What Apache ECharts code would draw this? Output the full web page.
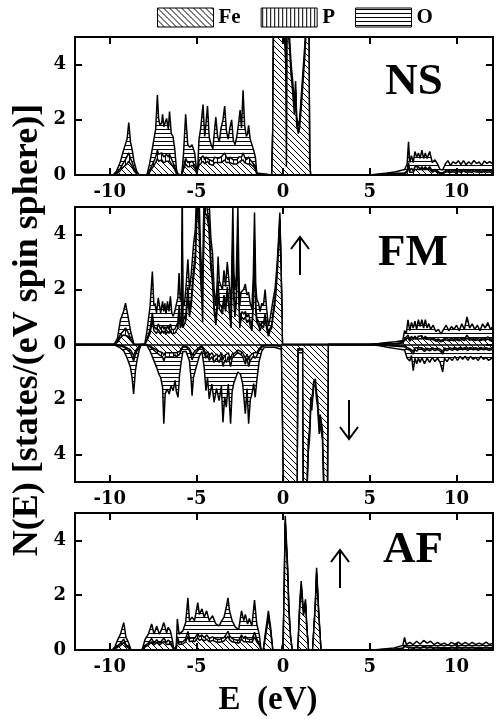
<!DOCTYPE html>
<html>
<head>
<meta charset="utf-8">
<script src="https://cdn.jsdelivr.net/npm/echarts@6/dist/echarts.min.js"></script>
<style>
html,body{margin:0;padding:0;background:#fff;}
#chart{width:496px;height:719px;}
</style>
</head>
<body>
<div id="chart"></div>
<script>
// ---------------- DATA ----------------
const PANELS = ['NS', 'FM', 'AF'];
const ELEMENTS = ['Fe', 'P', 'O'];

// NS panel
const NS_E = [
-12, -9.8, -9.6, -9.4, -9.2, -9.1, -9.0, -8.9, -8.8, -8.7, -8.6, -8.45, -8.3,
-7.85, -7.7, -7.55, -7.45, -7.35, -7.25, -7.18, -7.1, -7.0, -6.95, -6.88, -6.8, -6.72, -6.62, -6.55, -6.45, -6.35, -6.25, -6.15, -6.05,
-5.85, -5.75, -5.62, -5.5, -5.38, -5.25, -5.1, -4.98,
-4.92, -4.85, -4.75, -4.62, -4.52, -4.45, -4.36, -4.26, -4.15, -4.05,
-3.95, -3.88, -3.78, -3.68, -3.58, -3.47, -3.37, -3.27, -3.17, -3.07,
-2.97, -2.87, -2.77, -2.67, -2.57, -2.48, -2.4, -2.31, -2.22, -2.12,
-2.05, -1.99, -1.9, -1.8, -1.7, -1.6, -1.53, -1.48,
-0.65, -0.6, -0.55, -0.4, -0.25, -0.15, -0.05, 0.05, 0.15, 0.19, 0.23, 0.35, 0.45, 0.55, 0.65, 0.72, 0.78, 0.88, 0.95, 1.05, 1.15, 1.25, 1.35, 1.48, 1.53, 1.58,
5.0, 5.5, 6.0, 6.5, 7.0, 7.15, 7.23, 7.3, 7.4, 7.5, 7.6, 7.7, 7.8, 7.9, 8.0, 8.1, 8.2, 8.3, 8.45, 8.6, 8.75, 8.9, 9.05, 9.2,
9.35, 9.5, 9.65, 9.8, 9.95, 10.1, 10.25, 10.4, 10.55, 10.7, 10.85, 11.0, 11.15, 11.3, 11.45, 11.6, 11.75, 11.9, 12.1
];
const NS_FE = [
0, 0, .05, .15, .3, .35, .4, .5, .4, .3, .15, .05, 0,
0, .1, .25, .35, .45, .6, .5, .5, .55, .5, .45, .45, .5, .45, .5, .4, .3, .2, .05, 0,
0, .2, .4, .3, .3, .35, .25, .05,
.1, .35, .4, .5, .4, .45, .5, .4, .35, .35,
.45, .5, .45, .4, .45, .5, .55, .45, .4, .45,
.5, .4, .35, .4, .45, .5, .45, .55, .45, .4,
.4, .45, .4, .35, .3, .2, .05, 0,
0, 1.5, 5.6, 5.5, 5.4, 5.3, 5.4, 5.5, 4.0, .3, 5.5, 4.8, 3.7, 3.0, 2.2, 3.0, 1.8, 1.5, 1.7, 2.5, 3.4, 4.3, 5.5, 5.6, .5, 0,
0, .01, .02, .04, .05, .1, .3, .1, .15, .1, .2, .15, .2, .15, .2, .15, .2, .15, .2, .1, .15, .1, .05, .05,
.1, .13, .09, .12, .1, .13, .09, .14, .1, .12, .09, .13, .11, .12, .09, .13, .1, .12, .1
];
const NS_P = [
0, 0, .03, .08, .15, .2, .2, .3, .2, .15, .1, .03, 0,
0, .05, .12, .15, .2, .3, .25, .2, .25, .25, .2, .2, .25, .2, .25, .2, .15, .1, .03, 0,
0, .1, .2, .15, .15, .15, .1, .02,
.05, .15, .2, .2, .15, .2, .2, .15, .15, .15,
.2, .2, .15, .15, .2, .2, .25, .2, .15, .2,
.2, .15, .15, .15, .2, .2, .2, .25, .2, .15,
.15, .2, .15, .15, .1, .1, .02, 0,
0, .05, .1, .2, .2, .2, .15, .1, .15, .1, .1, .1, .1, .1, .1, .1, .1, .1, .1, .1, .1, .1, .1, .1, .05, 0,
0, .01, .01, .02, .02, .05, .15, .05, .1, .05, .1, .1, .1, .05, .1, .05, .1, .05, .1, .05, .05, .05, .03, .03,
.05, .06, .04, .06, .05, .06, .05, .06, .04, .06, .05, .06, .05, .05, .04, .06, .05, .06, .05
];
const NS_O = [
0, 0, .07, .22, .45, .55, .7, 1.1, .6, .45, .25, .07, 0,
0, .25, .55, .8, 1.0, 2.0, 1.3, 1.1, 1.1, 1.45, 1.1, 1.15, 1.3, 1.0, 1.55, .9, .95, .65, .12, 0,
0, .4, 1.6, .65, .55, .6, .45, .05,
.15, .8, 1.1, 1.85, .85, 1.2, 1.8, .8, .6, .45,
1.0, 1.4, .8, .65, 1.05, 1.3, 1.7, .95, .75, 1.05,
1.3, .7, .6, .85, 1.2, 1.65, 1.05, 2.27, 1.15, .85,
.95, 1.15, .75, .6, .5, .35, .08, 0,
0, .1, .3, .6, .7, .6, .4, .35, .5, .3, .3, .3, .3, .3, .3, .3, .2, .2, .2, .3, .3, .3, .3, .3, .1, 0,
0, .02, .04, .06, .13, .25, .75, .3, .45, .3, .55, .4, .5, .4, .6, .4, .5, .4, .55, .3, .35, .25, .12, .1,
.25, .33, .22, .3, .26, .33, .24, .32, .23, .3, .25, .34, .26, .3, .22, .32, .27, .3, .25
];

// FM panel, spin up
const FMU_E = [
-12, -9.75, -9.55, -9.38, -9.2, -9.09, -8.95, -8.8, -8.6,
-7.98, -7.85, -7.67, -7.54, -7.45, -7.39, -7.3, -7.2, -7.06, -6.95, -6.88, -6.82, -6.75, -6.67, -6.58, -6.5, -6.42, -6.34, -6.25, -6.15,
-6.07, -6.0, -5.93, -5.86, -5.82, -5.78, -5.7, -5.6, -5.49, -5.4, -5.3, -5.17, -5.06,
-4.98, -4.87, -4.77, -4.68, -4.64, -4.6, -4.52, -4.4, -4.28, -4.17, -4.07, -3.98, -3.88,
-3.8, -3.75, -3.68, -3.6, -3.5, -3.41, -3.32, -3.22, -3.15, -3.09, -3.0, -2.95, -2.9,
-2.84, -2.78, -2.7, -2.61, -2.55, -2.5, -2.43, -2.37, -2.28, -2.18, -2.09, -1.99, -1.9, -1.8,
-1.72, -1.65, -1.58, -1.52, -1.42, -1.33, -1.23, -1.14, -1.04, -0.95, -0.85, -0.75, -0.66,
-0.56, -0.47, -0.4, -0.32, -0.25, -0.19, -0.14, -0.09, -0.04,
4.8, 5.5, 6.0, 6.5, 6.9, 7.0, 7.1, 7.2, 7.3, 7.4, 7.5, 7.6, 7.7, 7.8, 7.9, 8.0, 8.1, 8.2, 8.3, 8.4, 8.5,
8.65, 8.8, 8.95, 9.1, 9.25, 9.4, 9.55, 9.7, 9.85, 10.0, 10.15, 10.3, 10.45, 10.6, 10.75, 10.9, 11.05, 11.2, 11.35, 11.5, 11.65, 11.8, 11.95, 12.1
];
const FMU_FE = [
0, 0, .08, .25, .35, .4, .3, .15, 0,
0, .15, .4, .9, .5, .5, .4, .55, .4, .5, .4, .5, .35, .5, .4, .55, .4, .35, .4, .45,
.6, 1.1, .6, .7, 3.5, .6, .6, .9, 1.8, 1.0, 1.4, 2.4, 3.0,
4.5, 4.7, 2.5, 1.5, .8, 3.0, 4.8, 4.7, 4.2, 2.8, 2.2, 1.2, .7,
1.3, 2.0, 1.3, 1.3, 1.1, 1.6, 1.2, 1.8, 1.5, 1.1, .6, 2.0, 3.6,
1.6, 1.0, 1.5, 3.6, 1.5, .6, .9, 1.0, .9, 1.0, .8, .9, .7, .5,
1.4, 3.5, 1.2, .8, .7, .5, .7, .6, .9, .6, .3, .5, .6,
1.1, 1.5, 2.0, 2.8, 3.6, 4.5, 3.2, 1.8, 0,
0, .01, .02, .03, .05, .15, .1, .25, .12, .2, .15, .2, .15, .2, .17, .22, .15, .2, .15, .18, .15,
.18, .12, .15, .1, .14, .17, .13, .16, .14, .17, .13, .18, .14, .24, .15, .18, .14, .17, .13, .18, .15, .2, .14, .16
];
const FMU_P = [
0, 0, .04, .12, .15, .2, .15, .08, 0,
0, .05, .15, .25, .15, .15, .15, .2, .15, .2, .15, .15, .15, .2, .15, .2, .15, .15, .15, .15,
.2, .3, .2, .2, .5, .2, .2, .25, .3, .2, .25, .3, .3,
.3, .3, .3, .2, .2, .3, .3, .3, .3, .3, .3, .2, .15,
.2, .3, .2, .2, .2, .2, .2, .3, .2, .2, .15, .3, .3,
.2, .2, .2, .3, .2, .15, .2, .2, .2, .2, .2, .2, .15, .15,
.2, .3, .2, .15, .15, .15, .15, .15, .2, .15, .1, .1, .1,
.15, .15, .15, .15, .15, .1, .1, .05, 0,
0, .01, .01, .01, .02, .05, .05, .1, .05, .1, .05, .1, .05, .1, .06, .1, .05, .1, .05, .08, .05,
.07, .05, .05, .04, .05, .07, .05, .06, .05, .07, .05, .07, .05, .1, .05, .07, .05, .07, .05, .07, .05, .08, .05, .06
];
const FMU_O = [
0, 0, .1, .53, .7, .9, .6, .27, 0,
0, .3, .85, 1.5, .75, .85, .6, .95, .6, .87, .65, .85, .6, .87, .65, 1.0, .6, .53, .65, .67,
.9, 1.2, .8, .9, 2.0, .7, .6, .95, 1.0, .8, .9, .9, .9,
1.0, 1.0, .8, .7, .5, .9, .9, 1.0, .9, .8, .8, .6, .55,
.8, .9, .8, .85, .7, .9, .7, .9, .8, .8, .55, .9, 1.1,
.8, .8, .8, 1.1, .8, .65, .8, .7, .9, 1.0, .8, .8, .65, .65,
.9, 1.0, .8, .7, .65, .55, .65, .65, .9, .55, .27, .35, .3,
.45, .35, .35, .25, .25, .2, .2, .15, 0,
0, .02, .04, .06, .08, .3, .25, .55, .33, .5, .4, .55, .35, .6, .42, .58, .4, .6, .4, .5, .35,
.45, .3, .35, .25, .36, .46, .32, .43, .36, .46, .32, .5, .36, .66, .4, .5, .36, .46, .32, .5, .4, .52, .36, .43
];

// FM panel, spin down (negative)
const FMD_E = [
-12, -9.75, -9.45, -9.19, -9.0, -8.8, -8.71, -8.62, -8.52, -8.43, -8.3, -8.18,
-7.88, -7.67, -7.48, -7.29, -7.15, -7.06, -6.95, -6.88, -6.8, -6.69, -6.57, -6.46, -6.34, -6.23, -6.16, -6.06, -5.97, -5.87, -5.78,
-5.6, -5.49, -5.4, -5.3, -5.25, -5.17, -5.02, -4.83, -4.68,
-4.55, -4.45, -4.36, -4.26, -4.11, -3.98, -3.84, -3.69, -3.56, -3.47, -3.37, -3.28, -3.16, -3.03,
-2.94, -2.84, -2.75, -2.61, -2.46, -2.33, -2.18, -2.08, -1.99, -1.89, -1.8, -1.7, -1.61, -1.52, -1.38, -1.23, -1.08,
-0.5, -0.1, 0.0, 0.03, 0.4, 0.8, 0.85, 1.0, 1.13, 1.17, 1.35,
1.45, 1.52, 1.6, 1.65, 1.7, 1.76, 1.86, 1.92, 1.99, 2.08, 2.14, 2.27, 2.37, 2.55, 2.6,
4.8, 5.5, 6.0, 6.5, 7.0, 7.15, 7.3, 7.4, 7.5, 7.6, 7.7, 7.8, 7.9, 8.0, 8.15, 8.3, 8.45, 8.6, 8.75, 8.9,
9.05, 9.2, 9.3, 9.45, 9.6, 9.75, 9.9, 10.05, 10.2, 10.35, 10.5, 10.65, 10.8, 10.95, 11.1, 11.25, 11.4, 11.55, 11.7, 11.85, 12.1
];
const FMD_FE = [
0, 0, -.03, -.06, -.12, -.2, -.3, -.4, -.25, -.15, -.05, 0,
0, -.06, -.13, -.2, -.25, -.28, -.3, -.4, -.3, -.3, -.3, -.3, -.3, -.25, -.3, -.35, -.25, -.15, -.06,
-.06, -.08, -.15, -.3, -.4, -.3, -.2, -.1, -.06,
-.2, -.35, -.25, -.4, -.3, -.45, -.35, -.45, -.3, -.55, -.4, -.45, -.3, -.55,
-.35, -.3, -.3, -.2, -.25, -.3, -.5, -.35, -.55, -.4, -.35, -.3, -.35, -.3, -.15, -.06, -.03,
-.03, -.05, -.1, -5.5, -5.5, -5.5, -.15, -.15, -.15, -5.5, -5.5,
-3.5, -3.1, -1.9, -2.1, -1.75, -1.35, -1.25, -1.7, -2.0, -2.9, -2.55, -3.1, -5.5, -5.5, 0,
0, -.01, -.03, -.04, -.06, -.12, -.15, -.1, -.25, -.12, -.18, -.12, -.17, -.12, -.18, -.13, -.17, -.12, -.16, -.13,
-.17, -.25, -.13, -.16, -.12, -.15, -.11, -.15, -.11, -.14, -.11, -.15, -.11, -.14, -.12, -.15, -.11, -.14, -.12, -.15, -.12
];
const FMD_P = [
0, 0, -.02, -.03, -.06, -.1, -.15, -.2, -.12, -.08, -.03, 0,
0, -.03, -.06, -.1, -.12, -.12, -.15, -.2, -.15, -.15, -.15, -.12, -.15, -.12, -.15, -.15, -.1, -.05, -.03,
-.03, -.04, -.07, -.12, -.16, -.12, -.1, -.05, -.03,
-.1, -.15, -.12, -.18, -.14, -.2, -.15, -.2, -.14, -.25, -.17, -.2, -.14, -.25,
-.15, -.12, -.14, -.1, -.1, -.14, -.22, -.15, -.25, -.17, -.15, -.12, -.15, -.12, -.07, -.03, -.01,
-.01, -.02, -.03, -.15, -.15, -.15, -.05, -.05, -.05, -.15, -.15,
-.1, -.1, -.08, -.08, -.06, -.05, -.05, -.06, -.07, -.1, -.08, -.1, -.15, -.15, 0,
0, -.01, -.01, -.02, -.02, -.05, -.05, -.04, -.1, -.05, -.07, -.05, -.06, -.05, -.07, -.05, -.06, -.05, -.06, -.05,
-.06, -.1, -.05, -.06, -.05, -.06, -.04, -.06, -.04, -.05, -.04, -.06, -.04, -.05, -.05, -.06, -.04, -.05, -.05, -.06, -.05
];
const FMD_O = [
0, 0, -.05, -.14, -.3, -.54, -.75, -1.2, -.59, -.37, -.12, 0,
0, -.15, -.35, -.54, -.73, -.8, -1.11, -2.28, -1.35, -1.17, -1.35, -1.08, -1.23, -.93, -1.25, -1.42, -.75, -.4, -.16,
-.16, -.18, -.38, -.9, -1.3, -.78, -.54, -.27, -.16,
-.54, -1.18, -.83, -1.4, -1.0, -1.45, -1.1, -1.39, -1.06, -2.03, -1.33, -1.63, -1.0, -2.08,
-1.2, -.98, -1.0, -.7, -.73, -1.0, -1.8, -1.1, -2.08, -1.43, -1.3, -1.0, -1.42, -.9, -.38, -.15, -.06,
-.06, -.1, -.17, -.35, -.35, -.35, -.1, -.1, -.1, -.35, -.35,
-.3, -.28, -.22, -.22, -.19, -.16, -.14, -.19, -.21, -.25, -.25, -.28, -.35, -.35, 0,
0, -.02, -.06, -.09, -.12, -.33, -.4, -.26, -.6, -.33, -.45, -.33, -.42, -.3, -.45, -.32, -.42, -.3, -.4, -.32,
-.42, -.65, -.32, -.4, -.3, -.37, -.28, -.37, -.28, -.35, -.28, -.37, -.28, -.35, -.3, -.37, -.28, -.35, -.3, -.37, -.3
];

// AF panel
const AF_E = [
-12, -9.85, -9.7, -9.56, -9.38, -9.19, -9.06, -8.9, -8.77,
-8.14, -7.95, -7.77, -7.58, -7.44, -7.29, -7.14, -7.0, -6.88, -6.72, -6.63, -6.5, -6.38, -6.3,
-6.16, -6.1, -6.0, -5.78, -5.62, -5.49, -5.4, -5.25, -5.11, -4.92, -4.83, -4.68, -4.55, -4.41, -4.26, -4.07,
-3.88, -3.69, -3.54, -3.41, -3.28, -3.18, -3.09, -2.94, -2.75, -2.56, -2.4, -2.27, -2.18, -2.05, -1.95, -1.8, -1.65, -1.52, -1.38, -1.27,
-1.14, -1.05, -0.95, -0.85, -0.72, -0.6, -0.09, 0.0, 0.06, 0.12, 0.18, 0.25, 0.33, 0.42, 0.52,
0.85, 0.95, 1.04, 1.17, 1.29, 1.36, 1.46, 1.7, 1.86, 1.93, 2.05, 2.18,
5.2, 5.8, 6.4, 6.9, 7.0, 7.1, 7.3, 7.5, 7.7, 7.9, 8.1, 8.3, 8.5, 8.7, 8.9, 9.1, 9.3, 9.5, 9.7, 9.9,
10.1, 10.3, 10.5, 10.7, 10.9, 11.1, 11.3, 11.5, 11.7, 11.9, 12.1
];
const AF_FE = [
0, 0, .04, .1, .16, .28, .13, .07, 0,
0, .12, .18, .3, .18, .28, .18, .25, .32, .2, .26, .22, .1, 0,
.05, .35, .2, .22, .3, .5, .3, .33, .3, .45, .35, .4, .33, .4, .3, .35,
.3, .28, .3, .33, .42, .5, .38, .3, .27, .25, .4, .3, .36, .3, .33, .28, .48, .3, .18, 0,
0, .35, .75, 1.2, .65, 0, 0, .22, 1.95, 4.6, 4.6, 2.9, 1.35, .45, 0,
0, 1.4, 2.3, 1.25, 1.65, .8, 0, 0, 1.6, 2.75, 1.25, 0,
0, .01, .02, .05, .13, .06, .08, .06, .09, .06, .1, .07, .09, .06, .08, .06, .07, .05, .08, .06,
.08, .06, .08, .06, .08, .06, .07, .06, .08, .06, .07
];
const AF_P = [
0, 0, .02, .05, .08, .12, .06, .03, 0,
0, .05, .07, .12, .07, .1, .07, .09, .12, .08, .1, .08, .04, 0,
.02, .13, .08, .08, .1, .18, .12, .12, .12, .15, .13, .15, .12, .15, .12, .13,
.1, .1, .12, .12, .15, .18, .14, .12, .1, .1, .15, .12, .14, .1, .12, .1, .17, .1, .07, 0,
0, .03, .05, .05, .04, 0, 0, .03, .1, .1, .1, .1, .1, .05, 0,
0, .05, .07, .05, .06, .04, 0, 0, .06, .08, .05, 0,
0, .01, .01, .02, .05, .02, .03, .02, .03, .02, .04, .03, .03, .02, .03, .02, .03, .02, .03, .02,
.03, .02, .03, .02, .03, .02, .03, .02, .03, .02, .03
];
const AF_O = [
0, 0, .06, .19, .34, .6, .27, .15, 0,
0, .23, .33, .53, .33, .5, .33, .42, .56, .35, .46, .4, .2, 0,
.08, .65, .3, .4, .6, 1.22, .65, .75, .65, 1.13, .82, .95, .75, .88, .65, .77,
.55, .5, .65, .74, .98, 1.22, .91, .65, .46, .4, .88, .65, .8, .55, .7, .5, 1.17, .55, .33, 0,
0, .12, .15, .18, .13, 0, 0, .05, .15, .2, .2, .2, .15, .1, 0,
0, .15, .15, .13, .14, .1, 0, 0, .14, .17, .13, 0,
0, .02, .04, .1, .28, .12, .17, .12, .2, .13, .21, .15, .2, .12, .17, .12, .15, .1, .17, .13,
.18, .12, .17, .12, .17, .12, .15, .12, .18, .12, .15
];

// ---------------- PATTERNS ----------------
function makePattern(kind) {
  const c = document.createElement('canvas');
  const s = kind === 'Fe' ? 6 : 4;
  c.width = s; c.height = s;
  const g = c.getContext('2d');
  g.fillStyle = '#fff'; g.fillRect(0, 0, s, s);
  g.fillStyle = '#000'; g.strokeStyle = '#000'; g.lineWidth = 1;
  if (kind === 'Fe') {
    g.beginPath();
    g.moveTo(-1, -1); g.lineTo(s + 1, s + 1);
    g.moveTo(-1, s - 1); g.lineTo(1, s + 1);
    g.moveTo(s - 1, -1); g.lineTo(s + 1, 1);
    g.stroke();
  } else if (kind === 'P') {
    g.fillRect(1, 0, 1, s);
  } else {
    g.fillRect(0, 1, s, 1);
  }
  return { image: c, repeat: 'repeat' };
}
const PAT = { Fe: makePattern('Fe'), P: makePattern('P'), O: makePattern('O') };

// ---------------- LAYOUT ----------------
const GRIDS = [
  { left: 75, top: 37, width: 424, height: 138 },
  { left: 75, top: 207, width: 424, height: 275 },
  { left: 75, top: 513, width: 424, height: 137 }
];
const YR = [[0, 5], [-5, 5], [0, 5]];
const LABEL_FONT = 'DejaVu Serif';

const xAxes = [], yAxes = [];
GRIDS.forEach((g, i) => {
  const common = {
    type: 'value', gridIndex: i, min: -12, max: 12.1, splitNumber: 5, z: 10,
    axisLine: { show: true, onZero: false, lineStyle: { color: '#000', width: 2 } },
    axisTick: { show: true, inside: true, length: 7, lineStyle: { color: '#000', width: 2 } },
    splitLine: { show: false }
  };
  xAxes.push(Object.assign({}, common, {
    position: 'bottom',
    axisLabel: {
      show: true, margin: 8, color: '#000', fontFamily: LABEL_FONT, fontWeight: 'bold', fontSize: 18,
      formatter: v => (Math.abs(v % 5) < 1e-6 ? String(Math.round(v)) : '')
    }
  }));
  xAxes.push(Object.assign({}, common, { position: 'top', axisLabel: { show: false } }));
  const yc = {
    type: 'value', gridIndex: i, min: YR[i][0], max: YR[i][1], splitNumber: i === 1 ? 5 : 3, z: 10,
    axisLine: { show: true, onZero: false, lineStyle: { color: '#000', width: 2 } },
    axisTick: { show: true, inside: true, length: 7, lineStyle: { color: '#000', width: 2 } },
    splitLine: { show: false }
  };
  yAxes.push(Object.assign({}, yc, {
    position: 'left',
    axisLabel: {
      show: true, margin: 9, color: '#000', fontFamily: LABEL_FONT, fontWeight: 'bold', fontSize: 18,
      formatter: v => (Math.abs(v) <= 4 && Math.abs(v % 2) < 1e-6 ? String(Math.abs(Math.round(v))) : '')
    }
  }));
  yAxes.push(Object.assign({}, yc, { position: 'right', axisLabel: { show: false } }));
});

// ---------------- SERIES ----------------
// Partial densities are piled up (Fe at the bottom, then P, then O on top):
// each area is filled from zero with an opaque hatch, drawn top layer first.
const series = [];
function addPanel(gi, E, fe, p, o, extra) {
  const n = Math.min(E.length, fe.length, p.length, o.length);
  const cum = {
    O: E.slice(0, n).map((e, j) => [e, +(fe[j] + p[j] + o[j]).toFixed(4)]),
    P: E.slice(0, n).map((e, j) => [e, +(fe[j] + p[j]).toFixed(4)]),
    Fe: E.slice(0, n).map((e, j) => [e, fe[j]])
  };
  ['O', 'P', 'Fe'].forEach((el, k) => {
    const s = {
      type: 'line', name: el,
      xAxisIndex: gi * 2, yAxisIndex: gi * 2,
      data: cum[el],
      showSymbol: false, symbol: 'none', smooth: false, animation: false, silent: true,
      clip: true,
      lineStyle: { color: '#000', width: 1.5 },
      itemStyle: { color: PAT[el] },
      areaStyle: { color: PAT[el], opacity: 1, origin: 0 },
      z: 2 + k
    };
    if (k === 0 && extra) Object.assign(s, extra);
    series.push(s);
  });
}
addPanel(0, NS_E, NS_FE, NS_P, NS_O);
addPanel(1, FMU_E, FMU_FE, FMU_P, FMU_O);
addPanel(1, FMD_E, FMD_FE, FMD_P, FMD_O, {
  markLine: {
    silent: true, symbol: ['none', 'none'], label: { show: false }, animation: false, z: 9,
    lineStyle: { color: '#000', width: 1.5, type: 'solid' }, data: [{ yAxis: 0 }]
  }
});
addPanel(2, AF_E, AF_FE, AF_P, AF_O);

// ---------------- ANNOTATIONS ----------------
const SERIF = '"Liberation Serif", "Times New Roman", serif';
function arrow(x, yTip, yEnd) {
  const d = yEnd > yTip ? 1 : -1;
  return {
    type: 'group', silent: true, z: 20,
    children: [
      { type: 'line', shape: { x1: x, y1: yTip, x2: x, y2: yEnd }, style: { stroke: '#000', lineWidth: 2 } },
      { type: 'polyline', shape: { points: [[x - 9, yTip + d * 12], [x, yTip], [x + 9, yTip + d * 12]] },
        style: { stroke: '#000', lineWidth: 2, fill: null } }
    ]
  };
}
const graphic = [
  { type: 'text', x: 414, y: 82, z: 20, silent: true,
    style: { text: PANELS[0], font: 'bold 45px ' + SERIF, fill: '#000', align: 'center', verticalAlign: 'middle' } },
  { type: 'text', x: 413, y: 253, z: 20, silent: true,
    style: { text: PANELS[1], font: 'bold 45px ' + SERIF, fill: '#000', align: 'center', verticalAlign: 'middle' } },
  { type: 'text', x: 413, y: 550, z: 20, silent: true,
    style: { text: PANELS[2], font: 'bold 45px ' + SERIF, fill: '#000', align: 'center', verticalAlign: 'middle' } },
  { type: 'text', x: 28, y: 330, rotation: Math.PI / 2, z: 20, silent: true,
    style: { text: 'N(E) [states/(eV spin sphere)]', font: 'bold 36px ' + SERIF, fill: '#000', align: 'center', verticalAlign: 'middle' } },
  { type: 'text', x: 268, y: 700, z: 20, silent: true,
    style: { text: 'E  (eV)', font: 'bold 33px ' + SERIF, fill: '#000', align: 'center', verticalAlign: 'middle' } },
  arrow(300, 237, 275),
  arrow(349, 439, 400),
  arrow(340, 550, 588)
];

// ---------------- CHART ----------------
const chart = echarts.init(document.getElementById('chart'), null, { renderer: 'canvas' });
chart.setOption({
  animation: false,
  backgroundColor: '#fff',
  legend: {
    left: 157, top: 7, padding: 0, itemGap: 20, itemWidth: 56, itemHeight: 19,
    selectedMode: false,
    textStyle: { fontFamily: SERIF, fontWeight: 'bold', fontSize: 21, color: '#000' },
    data: ELEMENTS.map(el => ({
      name: el, icon: 'rect',
      itemStyle: { color: PAT[el], borderColor: '#000', borderWidth: 1 }
    }))
  },
  grid: GRIDS.map(g => Object.assign({ containLabel: false, show: false }, g)),
  xAxis: xAxes,
  yAxis: yAxes,
  series: series,
  graphic: graphic
});
</script>
</body>
</html>
